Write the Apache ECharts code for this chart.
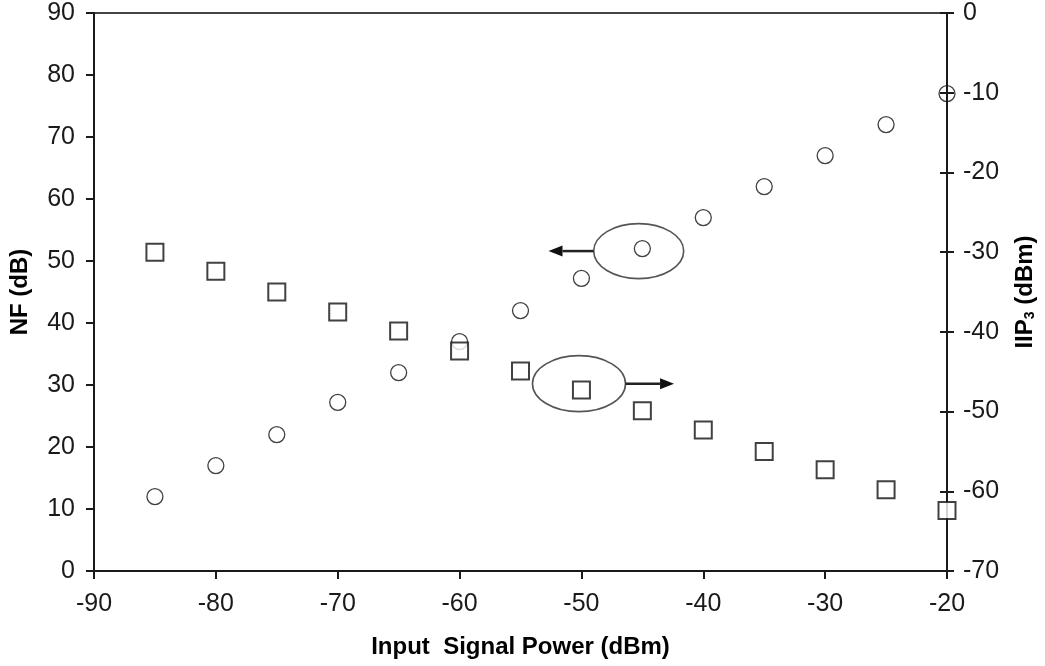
<!DOCTYPE html>
<html>
<head>
<meta charset="utf-8">
<script src="https://cdn.jsdelivr.net/npm/echarts@6/dist/echarts.min.js"></script>
<style>
  html, body { margin: 0; padding: 0; background: #fff; }
  #main { width: 1045px; height: 666px; }
</style>
</head>
<body>
<div id="main"></div>
<script>
// data
var inputPower = [-85, -80, -75, -70, -65, -60, -55, -50, -45, -40, -35, -30, -25, -20];
var nfValues = [12, 17, 22, 27.2, 32, 37, 42, 47.2, 52, 57, 62, 67, 72, 77];
var iip3Values = [-30, -32.4, -35, -37.5, -39.9, -42.4, -44.9, -47.3, -49.9, -52.3, -55, -57.3, -59.8, -62.4];

var FONT = "'Liberation Sans', Arial, sans-serif";
var chart = echarts.init(document.getElementById('main'), null, { renderer: 'canvas' });

function pairs(xs, ys) {
  var out = [];
  for (var i = 0; i < xs.length; i++) out.push([xs[i], ys[i]]);
  return out;
}

var tickLabel = { color: '#1a1a1a', fontSize: 25, fontFamily: FONT };
var axisName = { color: '#000', fontSize: 24, fontWeight: 'bold', fontFamily: FONT };

var option = {
  backgroundColor: '#fff',
  animation: false,
  grid: {
    left: 92, right: 97, top: 13, bottom: 95,
    show: true, borderColor: '#444', borderWidth: 2, backgroundColor: 'transparent'
  },
  xAxis: {
    type: 'value', min: -90, max: -20, interval: 10,
    name: 'Input  Signal Power (dBm)', nameLocation: 'middle', nameGap: 64,
    nameTextStyle: axisName,
    axisLine: { show: true, onZero: false, lineStyle: { color: '#1a1a1a', width: 2 } },
    axisTick: { show: true, inside: false, length: 8, lineStyle: { color: '#1a1a1a', width: 2 } },
    axisLabel: Object.assign({ margin: 21 }, tickLabel),
    splitLine: { show: false }
  },
  yAxis: [{
    type: 'value', position: 'left', min: 0, max: 90, interval: 10,
    name: 'NF (dB)', nameLocation: 'middle', nameGap: 62, nameRotate: 90,
    nameTextStyle: axisName,
    axisLine: { show: true, onZero: false, lineStyle: { color: '#1a1a1a', width: 2 } },
    axisTick: { show: true, inside: false, length: 8, lineStyle: { color: '#1a1a1a', width: 2 } },
    axisLabel: Object.assign({ margin: 19 }, tickLabel),
    splitLine: { show: false }
  }, {
    type: 'value', position: 'right', min: -70, max: 0, interval: 10,
    name: 'IIP{sub|3} (dBm)', nameLocation: 'middle', nameGap: 66, nameRotate: 90,
    nameTextStyle: Object.assign({
      rich: { sub: { fontSize: 14, fontWeight: 'bold', fontFamily: FONT, verticalAlign: 'bottom', padding: [9, 0, 0, 0] } }
    }, axisName),
    axisLine: { show: true, onZero: false, lineStyle: { color: '#1a1a1a', width: 2 } },
    axisTick: { show: true, inside: false, length: 7, lineStyle: { color: '#1a1a1a', width: 2 } },
    axisLabel: Object.assign({ margin: 16 }, tickLabel),
    splitLine: { show: false }
  }, {
    // inner half of the crossing ticks on the right axis
    type: 'value', position: 'right', min: -70, max: 0, interval: 10,
    axisLine: { show: false },
    axisTick: { show: true, inside: true, length: 7, lineStyle: { color: '#1a1a1a', width: 2 } },
    axisLabel: { show: false },
    splitLine: { show: false }
  }],
  series: [{
    name: 'NF', type: 'scatter', yAxisIndex: 0,
    data: pairs(inputPower, nfValues),
    symbol: 'circle', symbolSize: 16,
    itemStyle: { color: 'rgba(255,255,255,0)', borderColor: '#111', borderWidth: 1.3 }
  }, {
    name: 'IIP3', type: 'scatter', yAxisIndex: 1,
    data: pairs(inputPower, iip3Values),
    symbol: 'rect', symbolSize: 17,
    itemStyle: { color: '#fff', borderColor: '#111', borderWidth: 2 }
  }]
};

chart.setOption(option);

// annotation ellipses with arrows, placed in data units
function px(x, y, yIdx) {
  return chart.convertToPixel({ xAxisIndex: 0, yAxisIndex: yIdx }, [x, y]);
}
function arrow(from, toX) {
  var dir = toX < from[0] ? -1 : 1;
  var tipBase = toX - dir * 14;
  return [{
    type: 'line', z: 50,
    shape: { x1: from[0], y1: from[1], x2: tipBase, y2: from[1] },
    style: { stroke: '#222', lineWidth: 2.5 }
  }, {
    type: 'polygon', z: 50,
    shape: { points: [[toX, from[1]], [tipBase, from[1] - 5.5], [tipBase, from[1] + 5.5]] },
    style: { fill: '#111' }
  }];
}

var c1 = px(-45.3, 51.6, 0);
var c2 = px(-50.2, -46.5, 1);
var rx1 = 45, ry1 = 27.5, rx2 = 46.5, ry2 = 28;
var arrow1End = px(-52.7, 0, 0)[0];
var arrow2End = px(-42.4, 0, 0)[0];

var elems = [{
  type: 'ellipse', z: 40,
  shape: { cx: c1[0], cy: c1[1], rx: rx1, ry: ry1 },
  style: { fill: 'none', stroke: '#555', lineWidth: 1.6 }
}, {
  type: 'ellipse', z: 40,
  shape: { cx: c2[0], cy: c2[1], rx: rx2, ry: ry2 },
  style: { fill: 'none', stroke: '#555', lineWidth: 1.6 }
}];
elems = elems.concat(arrow([c1[0] - rx1, c1[1]], arrow1End));
elems = elems.concat(arrow([c2[0] + rx2, c2[1]], arrow2End));

chart.setOption({ graphic: { elements: elems } });
</script>
</body>
</html>
